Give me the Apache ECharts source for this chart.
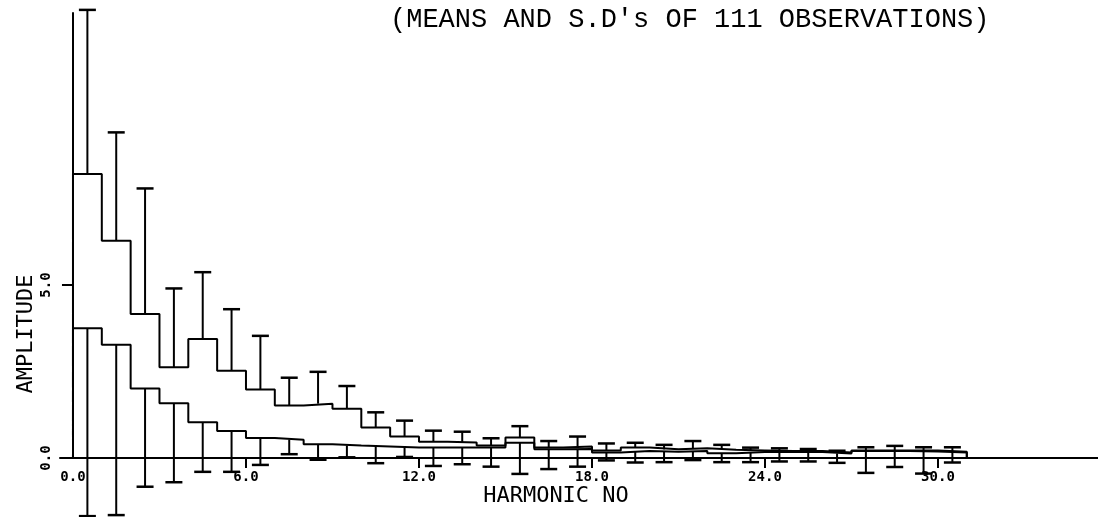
<!DOCTYPE html>
<html>
<head>
<meta charset="utf-8">
<script src="https://cdn.jsdelivr.net/npm/echarts@6/dist/echarts.min.js"></script>
<style>
  html, body { margin: 0; padding: 0; background: #fff; }
  #chart { width: 1098px; height: 517px; }
</style>
</head>
<body>
<div id="chart"></div>
<script>
// Harmonic numbers (bin h spans h-1 .. h on the axis)
const harmonicNo = [1,2,3,4,5,6,7,8,9,10,11,12,13,14,15,16,17,18,19,20,21,22,23,24,25,26,27,28,29,30,31];

// Upper curve: means and S.D. (drawn upward)
const upperMean = [8.21,6.28,4.16,2.62,3.44,2.52,1.98,1.52,1.57,1.42,0.88,0.62,0.47,0.45,0.36,0.59,0.30,0.33,0.22,0.30,0.25,0.28,0.24,0.22,0.20,0.20,0.16,0.22,0.22,0.22,0.18];
const upperSD   = [4.74,3.13,3.63,2.28,1.93,1.78,1.55,0.80,0.92,0.66,0.44,0.46,0.32,0.31,0.21,0.33,0.19,0.29,0.20,0.14,0.13,0.21,0.14,0.08,0.08,0.06,0.05,0.09,0.13,0.09,0.13];

// Lower curve: means and S.D. (drawn downward)
const lowerMean = [3.75,3.27,2.01,1.58,1.03,0.78,0.58,0.53,0.40,0.36,0.33,0.30,0.30,0.30,0.30,0.44,0.25,0.26,0.16,0.20,0.18,0.20,0.14,0.17,0.18,0.17,0.13,0.20,0.20,0.19,0.16];
const lowerSD   = [5.43,4.92,2.84,2.28,1.43,1.18,0.78,0.42,0.45,0.34,0.48,0.27,0.53,0.48,0.55,0.90,0.57,0.51,0.23,0.33,0.30,0.26,0.26,0.29,0.28,0.27,0.27,0.63,0.46,0.64,0.29];

// Axis ticks / labels
const xTickValues = [0, 6, 12, 18, 24, 30];
const xTickLabels = ['0.0', '6.0', '12.0', '18.0', '24.0', '30.0'];
const yTickValues = [0, 5];
const yTickLabels = ['0.0', '5.0'];

const titleText = "(MEANS AND S.D's OF 111 OBSERVATIONS)";
const xName = 'HARMONIC NO';
const yName = 'AMPLITUDE';

const X_MIN = -0.45, X_MAX = 35.55, Y_MIN = 0, Y_MAX = 12.86;

// Build step outline from the bins
function stepPoints(means) {
  const pts = [[harmonicNo[0] - 1, 0]];
  harmonicNo.forEach((h, i) => {
    pts.push([h - 1, means[i]]);
    pts.push([h, means[i]]);
  });
  pts.push([harmonicNo[harmonicNo.length - 1], 0]);
  return pts;
}
function barData(means, sds) {
  return harmonicNo.map((h, i) => [h - 0.5, means[i], sds[i]]);
}
function makeBar(sign) {
  return function (params, api) {
    const x = api.value(0), m = api.value(1), s = api.value(2);
    const p0 = api.coord([x, m]);
    const p1 = api.coord([x, m + sign * s]);
    const half = 8.5;
    return {
      type: 'group',
      children: [
        { type: 'line', shape: { x1: p0[0], y1: p0[1], x2: p1[0], y2: p1[1] },
          style: { stroke: '#000', lineWidth: 2 } },
        { type: 'line', shape: { x1: p1[0] - half, y1: p1[1], x2: p1[0] + half, y2: p1[1] },
          style: { stroke: '#000', lineWidth: 2.5 } }
      ]
    };
  };
}

const chart = echarts.init(document.getElementById('chart'), null, { renderer: 'canvas' });
chart.setOption({
  animation: false,
  backgroundColor: '#fff',
  title: {
    text: titleText,
    left: 385, top: 1,
    textStyle: { fontFamily: 'Liberation Mono', fontSize: 27, fontWeight: 'normal', color: '#000' }
  },
  graphic: [
    { type: 'text', x: 556, y: 496, style: { text: xName, fill: '#000',
      font: '22px "DejaVu Sans Mono"', textAlign: 'center', textVerticalAlign: 'middle' } },
    { type: 'text', x: 26, y: 334, rotation: Math.PI / 2, style: { text: yName, fill: '#000',
      font: '22px "DejaVu Sans Mono"', textAlign: 'center', textVerticalAlign: 'middle' } }
  ],
  grid: { left: 60, right: 0, top: 13, bottom: 59, containLabel: false, outerBoundsMode: 'none' },
  xAxis: {
    type: 'value', min: X_MIN, max: X_MAX,
    splitLine: { show: false },
    axisLine: { show: true, onZero: false, lineStyle: { color: '#000', width: 2 } },
    axisTick: { show: true, length: 10, inside: false, customValues: xTickValues.slice(1),
      lineStyle: { color: '#000', width: 2 } },
    axisLabel: { show: true, customValues: xTickValues, margin: 12,
      formatter: v => xTickLabels[xTickValues.indexOf(v)],
      fontFamily: 'DejaVu Sans Mono', fontSize: 14, fontWeight: 'bold', color: '#000' }
  },
  yAxis: {
    type: 'value', min: Y_MIN, max: Y_MAX,
    splitLine: { show: false },
    axisLine: { show: true, onZero: true, lineStyle: { color: '#000', width: 2 } },
    axisTick: { show: true, length: 11, customValues: [5], lineStyle: { color: '#000', width: 2 } },
    axisLabel: { show: true, customValues: yTickValues, rotate: 90, margin: 7,
      formatter: v => yTickLabels[yTickValues.indexOf(v)],
      fontFamily: 'DejaVu Sans Mono', fontSize: 14, fontWeight: 'bold', color: '#000' }
  },
  series: [
    { type: 'line', data: stepPoints(upperMean), showSymbol: false, silent: true,
      lineStyle: { color: '#000', width: 2 } },
    { type: 'line', data: stepPoints(lowerMean), showSymbol: false, silent: true,
      lineStyle: { color: '#000', width: 2 } },
    { type: 'custom', data: barData(upperMean, upperSD), renderItem: makeBar(1), silent: true, clip: false },
    { type: 'custom', data: barData(lowerMean, lowerSD), renderItem: makeBar(-1), silent: true, clip: false }
  ]
});
</script>
</body>
</html>
